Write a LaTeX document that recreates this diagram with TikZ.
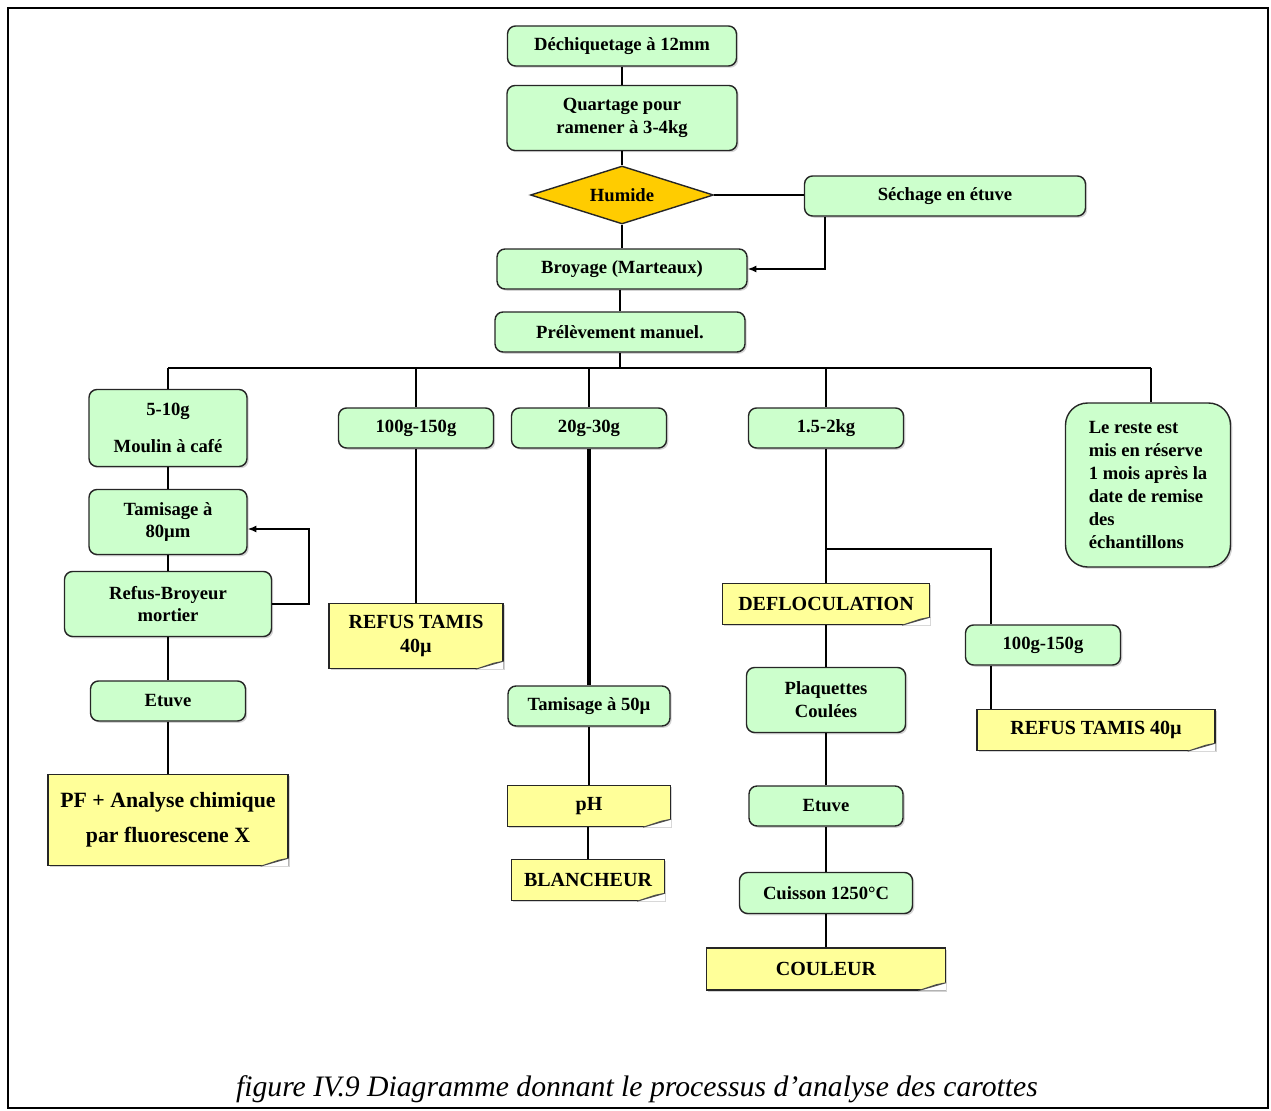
\documentclass[tikz,border=0pt]{standalone}
\usepackage{fontspec}
\setmainfont{Liberation Serif}
\usetikzlibrary{shapes.geometric,shadows,arrows.meta}
\definecolor{boxgreen}{HTML}{CCFFCC}
\definecolor{notey}{HTML}{FFFF99}
\definecolor{diamy}{HTML}{FFCC00}
\definecolor{foldy}{HTML}{D2D270}
\newcommand{\notefold}[1]{%
  \fill[white] (#1.south east) -- ++(-0.56cm,0) -- ++(0.56cm,0.16cm) -- cycle;
  \filldraw[fill=foldy, draw=black!70, line width=0.5pt] ([xshift=-0.56cm]#1.south east) -- ([yshift=0.16cm]#1.south east) -- ([xshift=-0.2cm,yshift=0.12cm]#1.south east) -- cycle;}
\begin{document}
\begin{tikzpicture}[x=0.02cm, y=-0.02cm, line width=0.8pt,
  font=\fontsize{10.6}{13}\selectfont\bfseries,
  box/.style={draw=black!85, fill=boxgreen, rounded corners=0.16cm, inner sep=0pt,
    drop shadow={shadow xshift=1pt, shadow yshift=-1pt, opacity=0.35}},
  note/.style={draw=black!85, fill=notey, inner sep=0pt, font=\fontsize{11.4}{13.5}\selectfont\bfseries,
    drop shadow={shadow xshift=1pt, shadow yshift=-1pt, opacity=0.35}},
  decision/.style={diamond, draw=black!85, fill=diamy, inner sep=0pt, aspect=3.2},
  arr/.style={-{Latex[length=5pt,width=4pt]}}]
\useasboundingbox (0,0) rectangle (1271,1111);
\draw (8,8) rectangle (1268,1108);

% top chain
\node[box, minimum width=4.58cm, minimum height=0.8cm] (dech) at (622,46) {Déchiquetage à 12mm};
\node[box, minimum width=4.6cm, minimum height=1.3cm, align=center] (quart) at (622,118) {Quartage pour\\ramener à 3-4kg};
\node[decision, minimum width=3.66cm, minimum height=1.16cm] (hum) at (622,195) {Humide};
\node[box, minimum width=5.62cm, minimum height=0.8cm] (sech) at (945,196) {Séchage en étuve};
\node[box, minimum width=5cm, minimum height=0.8cm] (broy) at (622,269) {Broyage (Marteaux)};
\node[box, minimum width=5cm, minimum height=0.8cm] (prel) at (620,332) {Prélèvement manuel.};

% branches
\node[box, minimum width=3.16cm, minimum height=1.54cm, align=center] (moulin) at (168,428) {5-10g\\[8pt]Moulin à café};
\node[box, minimum width=3.1cm, minimum height=0.8cm] (gA) at (416,428) {100g-150g};
\node[box, minimum width=3.1cm, minimum height=0.8cm] (gB) at (589,428) {20g-30g};
\node[box, minimum width=3.1cm, minimum height=0.8cm] (gC) at (826,428) {1.5-2kg};
\node[box, rounded corners=0.44cm, minimum width=3.3cm, minimum height=3.28cm, align=left] (reste) at (1148,485)
  {Le reste est\\mis en réserve\\1 mois après la\\date de remise\\des\\échantillons};

% left column
\node[box, minimum width=3.16cm, minimum height=1.3cm, align=center] (tam80) at (168,522) {Tamisage à\\80µm};
\node[box, minimum width=4.14cm, minimum height=1.3cm, align=center] (refus) at (168,604) {Refus-Broyeur\\mortier};
\node[box, minimum width=3.1cm, minimum height=0.8cm] (etuveA) at (168,701) {Etuve};
\node[note, minimum width=4.8cm, minimum height=1.82cm, align=center, font=\fontsize{12.4}{14}\selectfont\bfseries] (pf) at (168,820) {PF + Analyse chimique\\[6pt]par fluorescene X};

% middle columns
\node[note, minimum width=3.48cm, minimum height=1.3cm, align=center] (refA) at (416,636) {REFUS TAMIS\\40µ};
\node[box, minimum width=3.24cm, minimum height=0.8cm] (tam50) at (589,706) {Tamisage à 50µ};
\node[note, minimum width=3.26cm, minimum height=0.82cm] (ph) at (589,806) {pH};
\node[note, minimum width=3.06cm, minimum height=0.82cm] (blanc) at (588,880) {BLANCHEUR};

% right columns
\node[note, minimum width=4.14cm, minimum height=0.82cm] (defl) at (826,604) {DEFLOCULATION};
\node[box, minimum width=3.18cm, minimum height=1.3cm, align=center] (plaq) at (826,700) {Plaquettes\\Coulées};
\node[box, minimum width=3.08cm, minimum height=0.8cm] (etuveB) at (826,806) {Etuve};
\node[box, minimum width=3.46cm, minimum height=0.82cm] (cuis) at (826,893) {Cuisson 1250°C};
\node[note, minimum width=4.78cm, minimum height=0.84cm] (coul) at (826,969) {COULEUR};
\node[box, minimum width=3.1cm, minimum height=0.8cm] (gD) at (1043,645) {100g-150g};
\node[note, minimum width=4.76cm, minimum height=0.82cm] (refB) at (1096,730) {REFUS TAMIS 40µ};

\foreach \n in {pf,refA,ph,blanc,defl,coul,refB} {\notefold{\n}}

% connectors
\draw (dech) -- (quart);
\draw (quart) -- (hum);
\draw (hum) -- (broy);
\draw (hum) -- (sech.west |- hum.east);
\draw (broy.south -| prel.north) -- (prel.north);
\draw[arr] ([xshift=0.42cm]sech.south west) |- (broy.east);

\coordinate (busL) at (168,368);
\coordinate (busR) at (1151,368);
\draw (prel.south) -- (prel.south |- busL);
\draw (busL) -- (busR);
\draw (busL) -- (moulin);
\draw (gA.north |- busL) -- (gA);
\draw (gB.north |- busL) -- (gB);
\draw (gC.north |- busL) -- (gC);
\draw (busR) -- (busR |- reste.north);

\draw (moulin) -- (tam80);
\draw (tam80) -- (refus);
\draw (refus) -- (etuveA);
\draw (etuveA) -- (pf);
\draw[arr] (refus.east) -- ++(37,0) |- ([yshift=-0.14cm]tam80.east);

\draw (gA) -- (refA);
\draw[line width=2pt] (gB) -- (tam50);
\draw (tam50) -- (ph);
\draw (ph.south -| blanc.north) -- (blanc.north);

\draw (gC) -- (defl);
\draw (defl) -- (plaq);
\draw (plaq) -- (etuveB);
\draw (etuveB) -- (cuis);
\draw (cuis) -- (coul);
\coordinate (split) at (826,549);
\coordinate (splitR) at (991,549);
\draw (split) -- (splitR) -- (splitR |- gD.north);
\draw (splitR |- gD.south) -- (splitR |- refB.north);

\node[font=\fontsize{16.9}{20}\selectfont\itshape] (cap) at (637,1089) {figure IV.9 Diagramme donnant le processus d’analyse des carottes};
\end{tikzpicture}
\end{document}
